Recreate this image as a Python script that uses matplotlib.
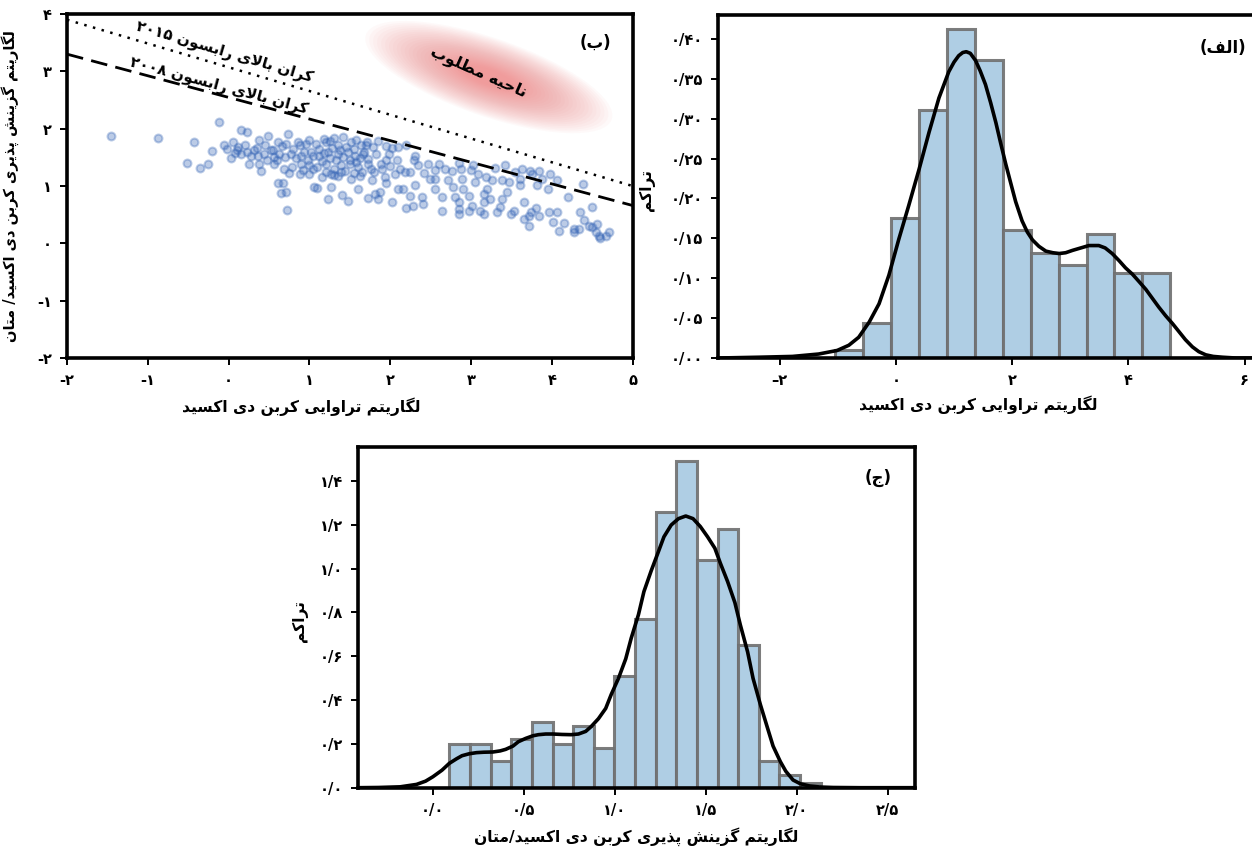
import re
import numpy as np
import matplotlib
matplotlib.use('Agg')
import matplotlib.pyplot as plt
from matplotlib.patches import Ellipse
from matplotlib.transforms import ScaledTranslation

plt.rcParams['font.family'] = ['DejaVu Sans']
plt.rcParams['font.weight'] = 'bold'

# ---------------- data ----------------
# (b) scatter: log CO2 permeability vs log CO2/CH4 selectivity
scat_x = [-1.45, -0.87, -0.12, 0.15, 0.23, -0.43, -0.21, -0.52, -0.35, -0.25, -0.06, 0.05, 0.20, 0.03,
          0.32, 0.38, 0.49, 0.61, 0.73, 0.25, 0.40, 0.56, 0.69, 0.61, 0.67, 0.65, 0.71, 0.72, 0.11, 0.44,
          0.52, 0.15, 0.48, 0.56, 0.36, 0.23, 0.38,
          0.71, 0.86, 0.96, 1.08, 1.21, 1.31, 1.42, 1.52, 1.64, 1.71, 1.79, 2.02, 2.10, 0.77, 0.90, 1.02,
          1.12, 1.23, 1.35, 1.48, 1.56, 1.66, 1.83, 1.99, 0.79, 0.90, 1.00, 1.10, 1.21, 1.31, 1.39, 1.50,
          1.60, 1.73, 1.89, 2.08, 0.88, 1.00, 1.15, 1.27, 1.39, 1.52, 1.62, 1.77, 1.93, 2.06, 1.06, 1.10,
          1.27, 1.23, 1.48, 1.73, 1.81, 1.87, 2.02, 2.18, 2.31, 2.35, 2.47, 2.60, 2.68, 2.76, 2.31, 2.16,
          2.24, 2.39, 2.49, 2.56, 2.72, 2.78, 2.64, 2.28, 2.41, 2.64, 2.80, 2.85,
          2.87, 3.03, 3.09, 2.89, 3.05, 3.18, 3.26, 3.38, 3.42, 3.47, 3.61, 3.63, 3.73, 3.76, 3.84, 3.82,
          3.98, 4.07, 4.38, 3.61, 2.85, 2.97, 3.01, 3.16, 3.16, 3.24, 3.38, 3.36, 2.85, 2.97, 3.11, 3.16,
          3.32, 3.53, 3.49, 3.65, 3.72, 3.74, 3.84, 3.72, 3.96, 4.01, 4.07, 4.09, 4.27, 4.34, 4.46, 4.50,
          4.56, 4.58, 4.60, 4.67, 4.71, 4.55,
          0.55, 0.62, 0.66, 0.80, 0.84, 0.93, 0.98, 1.05, 1.12, 1.15, 1.18, 1.25, 1.28, 1.33, 1.38, 1.42,
          1.45, 1.50, 1.55, 1.58, 1.63, 1.68, 1.72, 1.76, 0.75, 0.92, 1.05, 1.20, 1.30, 1.36, 1.44, 1.55,
          1.65, 1.80, 1.90, 1.95, 2.00, 2.12, 2.25, 0.45, 0.35, 0.28, 0.12, 0.08, -0.02, 0.60, 0.70, 0.88,
          1.00, 1.18, 1.26, 1.35, 1.58, 1.70, 1.85, 1.95, 2.20, 2.30, 2.42, 2.55, 2.85, 3.00, 3.30, 3.55,
          3.88, 3.95, 4.20, 4.35, 4.40, 4.50, 3.20, 3.45, 2.90, 2.55, 2.10, 1.95, 1.60, 1.40, 1.85, 2.20,
          3.65, 3.80, 4.15, 4.28]
scat_y = [1.87, 1.84, 2.11, 1.98, 1.94, 1.77, 1.61, 1.41, 1.31, 1.39, 1.71, 1.77, 1.71, 1.49,
          1.63, 1.80, 1.87, 1.76, 1.91, 1.39, 1.27, 1.39, 1.30, 1.06, 1.06, 0.88, 0.90, 0.59, 1.62, 1.56,
          1.62, 1.56, 1.45, 1.50, 1.53, 1.59, 1.39,
          1.74, 1.77, 1.74, 1.74, 1.77, 1.83, 1.85, 1.77, 1.71, 1.77, 1.68, 1.67, 1.68, 1.56, 1.53, 1.59,
          1.53, 1.59, 1.56, 1.59, 1.53, 1.56, 1.56, 1.56, 1.33, 1.39, 1.36, 1.33, 1.39, 1.30, 1.36, 1.39,
          1.33, 1.39, 1.39, 1.45, 1.21, 1.21, 1.15, 1.21, 1.24, 1.13, 1.18, 1.10, 1.15, 1.21, 0.99, 0.97,
          0.98, 0.78, 0.73, 0.79, 0.86, 0.89, 0.72, 1.24, 1.53, 1.36, 1.39, 1.39, 1.30, 1.27, 1.01, 0.95,
          0.83, 0.80, 1.13, 1.13, 1.10, 0.98, 0.80, 0.66, 0.69, 0.57, 0.80, 0.60,
          1.30, 1.36, 1.21, 1.13, 1.07, 1.15, 1.10, 1.10, 1.36, 1.07, 1.13, 1.30, 1.27, 1.21, 1.27, 1.01,
          1.21, 1.10, 1.04, 1.01, 0.72, 0.83, 0.66, 0.86, 0.72, 0.78, 0.78, 0.63, 0.51, 0.57, 0.57, 0.51,
          0.54, 0.57, 0.51, 0.43, 0.48, 0.54, 0.48, 0.31, 0.54, 0.37, 0.54, 0.22, 0.25, 0.25, 0.31, 0.63,
          0.34, 0.13, 0.10, 0.13, 0.19, 0.19,
          1.62, 1.55, 1.70, 1.64, 1.48, 1.60, 1.45, 1.52, 1.65, 1.44, 1.58, 1.48, 1.66, 1.45, 1.62, 1.50,
          1.68, 1.46, 1.64, 1.42, 1.49, 1.60, 1.47, 1.30, 1.22, 1.28, 1.30, 1.25, 1.20, 1.18, 1.26, 1.22,
          1.25, 1.25, 1.30, 1.45, 1.35, 1.30, 1.25, 1.72, 1.66, 1.52, 1.68, 1.58, 1.65, 1.45, 1.50, 1.72,
          1.80, 1.82, 1.78, 1.72, 1.80, 1.72, 1.78, 1.70, 1.72, 1.45, 1.22, 1.28, 1.40, 1.28, 1.32, 1.25,
          1.12, 0.95, 0.80, 0.55, 0.40, 0.28, 0.95, 0.90, 0.95, 0.95, 0.95, 1.05, 0.95, 0.85, 0.78, 0.62,
          0.72, 0.62, 0.35, 0.20]

# Robeson upper bounds (end points)
rob2015_x = [-2.0, 5.0]
rob2015_y = [3.90, 1.00]
rob2008_x = [-2.0, 5.0]
rob2008_y = [3.30, 0.66]

# (alef) histogram + density of log CO2 permeability
alef_edges = [-1.04, -0.56, -0.08, 0.40, 0.88, 1.36, 1.84, 2.32, 2.80, 3.28, 3.76, 4.24, 4.72]
alef_heights = [0.010, 0.044, 0.175, 0.311, 0.413, 0.374, 0.160, 0.132, 0.117, 0.155, 0.107, 0.107]
alef_kde_x = [-3.06, -2.36, -1.78, -1.33, -1.01, -0.81, -0.64, -0.46, -0.29, -0.12, 0.05, 0.22, 0.40,
              0.57, 0.74, 0.91, 1.00, 1.08, 1.15, 1.21, 1.28, 1.37, 1.45, 1.54, 1.63, 1.72, 1.80, 1.89,
              1.98, 2.06, 2.17, 2.26, 2.35, 2.46, 2.58, 2.70, 2.81, 2.92, 3.04, 3.18, 3.32, 3.49, 3.60,
              3.72, 3.84, 3.95, 4.07, 4.18, 4.30, 4.41, 4.52, 4.64, 4.76, 4.87, 4.98, 5.10, 5.21, 5.33,
              5.46, 5.62, 5.85, 6.16]
alef_kde_y = [0.000, 0.001, 0.002, 0.005, 0.0095, 0.016, 0.026, 0.045, 0.068, 0.104, 0.149, 0.191, 0.237,
              0.283, 0.326, 0.359, 0.371, 0.379, 0.383, 0.384, 0.382, 0.373, 0.360, 0.343, 0.320, 0.295,
              0.270, 0.243, 0.218, 0.196, 0.172, 0.158, 0.148, 0.140, 0.134, 0.132, 0.131, 0.132, 0.135,
              0.138, 0.141, 0.141, 0.138, 0.131, 0.122, 0.113, 0.105, 0.096, 0.086, 0.075, 0.064, 0.053,
              0.043, 0.033, 0.023, 0.014, 0.008, 0.004, 0.002, 0.001, 0.000, 0.000]

# (jim) histogram + density of log CO2/CH4 selectivity
jim_edges = [0.091, 0.204, 0.318, 0.431, 0.545, 0.658, 0.771, 0.885, 0.998, 1.112, 1.225, 1.338, 1.452,
             1.565, 1.679, 1.792, 1.905, 2.019, 2.132]
jim_heights = [0.20, 0.20, 0.12, 0.22, 0.30, 0.20, 0.28, 0.18, 0.51, 0.77, 1.26, 1.49, 1.04, 1.18, 0.65,
               0.12, 0.06, 0.02]
jim_kde_x = [-0.41, -0.30, -0.18, -0.09, -0.04, 0.00, 0.05, 0.09, 0.13, 0.16, 0.20, 0.24, 0.28, 0.33,
             0.37, 0.40, 0.44, 0.47, 0.51, 0.55, 0.58, 0.62, 0.66, 0.71, 0.76, 0.80, 0.84, 0.87, 0.91,
             0.95, 0.98, 1.02, 1.06, 1.09, 1.13, 1.16, 1.20, 1.24, 1.27, 1.31, 1.35, 1.39, 1.43, 1.47,
             1.51, 1.55, 1.58, 1.62, 1.66, 1.69, 1.73, 1.76, 1.80, 1.84, 1.87, 1.91, 1.94, 1.98, 2.02,
             2.07, 2.13, 2.20, 2.35, 2.65]
jim_kde_y = [0.000, 0.001, 0.004, 0.015, 0.030, 0.050, 0.080, 0.111, 0.132, 0.146, 0.155, 0.160, 0.162,
             0.163, 0.168, 0.175, 0.190, 0.210, 0.225, 0.237, 0.242, 0.245, 0.245, 0.243, 0.242, 0.245,
             0.257, 0.279, 0.315, 0.362, 0.425, 0.499, 0.588, 0.682, 0.790, 0.895, 0.990, 1.078, 1.145,
             1.199, 1.228, 1.240, 1.228, 1.192, 1.145, 1.093, 1.025, 0.941, 0.845, 0.743, 0.620, 0.499,
             0.380, 0.271, 0.190, 0.119, 0.075, 0.035, 0.018, 0.008, 0.003, 0.001, 0.000, 0.000]

# ---------------- Persian text helpers ----------------
FORMS = {
    'ا': (0xFE8D, 0xFE8E, None, None), 'آ': (0xFE81, 0xFE82, None, None),
    'ب': (0xFE8F, 0xFE90, 0xFE91, 0xFE92), 'پ': (0xFB56, 0xFB57, 0xFB58, 0xFB59),
    'ت': (0xFE95, 0xFE96, 0xFE97, 0xFE98), 'ث': (0xFE99, 0xFE9A, 0xFE9B, 0xFE9C),
    'ج': (0xFE9D, 0xFE9E, 0xFE9F, 0xFEA0), 'چ': (0xFB7A, 0xFB7B, 0xFB7C, 0xFB7D),
    'ح': (0xFEA1, 0xFEA2, 0xFEA3, 0xFEA4), 'خ': (0xFEA5, 0xFEA6, 0xFEA7, 0xFEA8),
    'د': (0xFEA9, 0xFEAA, None, None), 'ذ': (0xFEAB, 0xFEAC, None, None),
    'ر': (0xFEAD, 0xFEAE, None, None), 'ز': (0xFEAF, 0xFEB0, None, None),
    'ژ': (0xFB8A, 0xFB8B, None, None), 'س': (0xFEB1, 0xFEB2, 0xFEB3, 0xFEB4),
    'ش': (0xFEB5, 0xFEB6, 0xFEB7, 0xFEB8), 'ص': (0xFEB9, 0xFEBA, 0xFEBB, 0xFEBC),
    'ط': (0xFEC1, 0xFEC2, 0xFEC3, 0xFEC4), 'ع': (0xFEC9, 0xFECA, 0xFECB, 0xFECC),
    'ف': (0xFED1, 0xFED2, 0xFED3, 0xFED4), 'ق': (0xFED5, 0xFED6, 0xFED7, 0xFED8),
    'ک': (0xFB8E, 0xFB8F, 0xFB90, 0xFB91), 'گ': (0xFB92, 0xFB93, 0xFB94, 0xFB95),
    'ل': (0xFEDD, 0xFEDE, 0xFEDF, 0xFEE0), 'م': (0xFEE1, 0xFEE2, 0xFEE3, 0xFEE4),
    'ن': (0xFEE5, 0xFEE6, 0xFEE7, 0xFEE8), 'و': (0xFEED, 0xFEEE, None, None),
    'ه': (0xFEE9, 0xFEEA, 0xFEEB, 0xFEEC), 'ی': (0xFBFC, 0xFBFD, 0xFBFE, 0xFBFF),
}
LAM_ALEF = {'ا': (0xFEFB, 0xFEFC), 'آ': (0xFEF5, 0xFEF6)}
DIGITS = '0123456789۰۱۲۳۴۵۶۷۸۹'


def shape(text):
    out = []
    i = 0
    n = len(text)
    while i < n:
        c = text[i]
        if c not in FORMS:
            out.append(c)
            i += 1
            continue
        prev = text[i - 1] if i > 0 else ''
        prev_joins = prev in FORMS and FORMS[prev][2] is not None
        if c == 'ل' and i + 1 < n and text[i + 1] in LAM_ALEF:
            iso, fin = LAM_ALEF[text[i + 1]]
            out.append(chr(fin if prev_joins else iso))
            i += 2
            continue
        nxt = text[i + 1] if i + 1 < n else ''
        iso, fin, ini, med = FORMS[c]
        next_ok = ini is not None and nxt in FORMS
        if prev_joins and next_ok:
            g = med
        elif prev_joins:
            g = fin
        elif next_ok:
            g = ini
        else:
            g = iso
        out.append(chr(g))
        i += 1
    return ''.join(out)


def fa(text):
    # shape letters and put them in visual (left-to-right) order
    runs = re.findall('[%s]+|[^%s]+' % (DIGITS, DIGITS), shape(text))
    vis = []
    for r in reversed(runs):
        if r[0] in DIGITS:
            vis.append(r)
        else:
            vis.append(r[::-1].translate(str.maketrans('()', ')(')))
    return ''.join(vis)


def fa_num(s):
    return s.translate(str.maketrans('0123456789.', '۰۱۲۳۴۵۶۷۸۹/'))


# ---------------- figure ----------------
fig = plt.figure(figsize=(12.52, 8.49), dpi=100)
ax_b = fig.add_axes([0.0535, 0.5783, 0.4518, 0.4052])
ax_a = fig.add_axes([0.5735, 0.5783, 0.4281, 0.4040])
ax_j = fig.add_axes([0.2862, 0.0722, 0.4446, 0.4013])

bar_face = '#a7c9e2'
bar_edge = '#6f6f6f'
lab_fs = 11.2
tick_fs = 10.5


def style(ax):
    for s in ax.spines.values():
        s.set_linewidth(2.6)
    ax.tick_params(direction='out', length=5, width=1.4, labelsize=tick_fs, pad=6)


# ----- (b) scatter -----
ax_b.set_xlim(-2, 5)
ax_b.set_ylim(-2, 4)

# "desired region" blurred pink ellipse
cx, cy = 3.22, 2.90
off = fig.dpi_scale_trans + ScaledTranslation(cx, cy, ax_b.transData)
for k in np.linspace(1.0, 0.2, 26):
    ax_b.add_patch(Ellipse((0, 0), 2.6 * k, 0.78 * k, angle=-19, transform=off,
                           facecolor='#f06a6a', edgecolor='none', alpha=0.035, zorder=1))
ax_b.text(3.09, 2.99, fa('ناحیه مطلوب'), rotation=-24, ha='center', va='center',
          fontsize=11.5, fontweight='bold', zorder=3)

ax_b.scatter(scat_x, scat_y, s=32, color='#2e5fb3', alpha=0.32, linewidths=1.5,
             edgecolors='#2e5fb3', zorder=2)
ax_b.plot(rob2015_x, rob2015_y, color='black', lw=1.8, ls=(0, (1, 2.6)), zorder=3)
ax_b.plot(rob2008_x, rob2008_y, color='black', lw=2.0, ls=(0, (6, 3)), zorder=3)


def line_label(ax, xs, ys, xpos, dy, text):
    p0 = ax.transData.transform((xs[0], ys[0]))
    p1 = ax.transData.transform((xs[1], ys[1]))
    ang = np.degrees(np.arctan2(p1[1] - p0[1], p1[0] - p0[0]))
    ypos = np.interp(xpos, xs, ys) + dy
    ax.text(xpos, ypos, text, rotation=ang, rotation_mode='anchor', ha='center', va='bottom',
            fontsize=11, fontweight='bold', zorder=4)


line_label(ax_b, rob2015_x, rob2015_y, -0.08, 0.10, fa('کران بالای رابسون ۲۰۱۵'))
line_label(ax_b, rob2008_x, rob2008_y, -0.15, 0.01, fa('کران بالای رابسون ۲۰۰۸'))

b_xt = [-2, -1, 0, 1, 2, 3, 4, 5]
b_yt = [-2, -1, 0, 1, 2, 3, 4]
ax_b.set_xticks(b_xt)
ax_b.set_xticklabels([fa_num(str(v)) for v in b_xt])
ax_b.set_yticks(b_yt)
ax_b.set_yticklabels([fa_num(str(v)) for v in b_yt])
style(ax_b)
ax_b.set_xlabel(fa('لگاریتم تراوایی کربن دی اکسید'), fontsize=lab_fs, fontweight='bold')
ax_b.xaxis.set_label_coords(0.415, -0.115)
ax_b.set_ylabel(fa('لگاریتم گزینش پذیری کربن دی اکسید/ متان'), fontsize=10.5, fontweight='bold')
ax_b.yaxis.set_label_coords(-0.085, 0.5)
ax_b.text(0.935, 0.915, fa('(ب)'), transform=ax_b.transAxes, ha='center', va='center',
          fontsize=12, fontweight='bold')

# ----- (alef) histogram -----
ax_a.bar(alef_edges[:-1], alef_heights, width=np.diff(alef_edges), align='edge',
         color=bar_face, edgecolor=bar_edge, linewidth=2.2, alpha=0.9, zorder=1)
ax_a.plot(alef_kde_x, alef_kde_y, color='black', lw=2.6, zorder=3)
ax_a.set_xlim(-3.06, 6.16)
ax_a.set_ylim(0, 0.43)
a_xt = [-2, 0, 2, 4, 6]
a_yt = [0.00, 0.05, 0.10, 0.15, 0.20, 0.25, 0.30, 0.35, 0.40]
ax_a.set_xticks(a_xt)
ax_a.set_xticklabels([fa_num(str(v)).replace('-', '–') for v in a_xt])
ax_a.set_yticks(a_yt)
ax_a.set_yticklabels([fa_num('%.2f' % v) for v in a_yt])
style(ax_a)
ax_a.set_xlabel(fa('لگاریتم تراوایی کربن دی اکسید'), fontsize=lab_fs, fontweight='bold')
ax_a.xaxis.set_label_coords(0.485, -0.108)
ax_a.set_ylabel(fa('تراکم'), fontsize=lab_fs, fontweight='bold')
ax_a.yaxis.set_label_coords(-0.118, 0.49)
ax_a.text(0.942, 0.905, fa('(الف)'), transform=ax_a.transAxes, ha='center', va='center',
          fontsize=12, fontweight='bold')

# ----- (jim) histogram -----
ax_j.bar(jim_edges[:-1], jim_heights, width=np.diff(jim_edges), align='edge',
         color=bar_face, edgecolor=bar_edge, linewidth=2.2, alpha=0.9, zorder=1)
ax_j.plot(jim_kde_x, jim_kde_y, color='black', lw=2.6, zorder=3)
ax_j.set_xlim(-0.41, 2.65)
ax_j.set_ylim(0, 1.555)
j_xt = [0.0, 0.5, 1.0, 1.5, 2.0, 2.5]
j_yt = [0.0, 0.2, 0.4, 0.6, 0.8, 1.0, 1.2, 1.4]
ax_j.set_xticks(j_xt)
ax_j.set_xticklabels([fa_num('%.1f' % v) for v in j_xt])
ax_j.set_yticks(j_yt)
ax_j.set_yticklabels([fa_num('%.1f' % v) for v in j_yt])
style(ax_j)
ax_j.set_xlabel(fa('لگاریتم گزینش پذیری کربن دی اکسید/متان'), fontsize=lab_fs, fontweight='bold')
ax_j.xaxis.set_label_coords(0.5, -0.115)
ax_j.set_ylabel(fa('تراکم'), fontsize=lab_fs, fontweight='bold')
ax_j.yaxis.set_label_coords(-0.09, 0.49)
ax_j.text(0.934, 0.909, fa('(ج)'), transform=ax_j.transAxes, ha='center', va='center',
          fontsize=12, fontweight='bold')

fig.savefig('out.png', dpi=100)
